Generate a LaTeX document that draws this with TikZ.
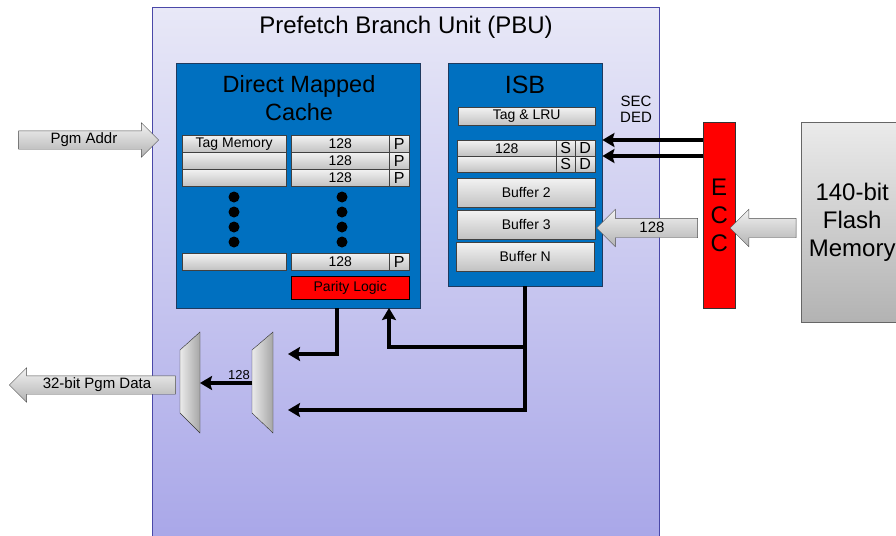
\documentclass[tikz,border=0pt]{standalone}
\usepackage{fontspec}
\setmainfont{Liberation Sans}
\usetikzlibrary{arrows.meta, shapes.arrows, positioning}

\definecolor{pbutop}{HTML}{E8E8F7}
\definecolor{pbubot}{HTML}{A8A6E8}
\definecolor{pbuline}{HTML}{4A48A8}
\definecolor{cacheblue}{HTML}{0070C0}
\definecolor{cacheline}{HTML}{1F3A5F}

\newcommand{\fs}[2]{\fontsize{#1}{#2}\selectfont}

\tikzset{
  box/.style={draw=#1, anchor=north west, inner sep=0pt},
  pbu/.style={box=pbuline, top color=pbutop, bottom color=pbubot},
  cachebox/.style={box=cacheline, fill=cacheblue},
  cell/.style={box=black!75, top color=black!5, bottom color=black!24, font=\fs{14}{14}},
  bus/.style={line width=3.8pt, -{Stealth[length=12pt,width=14pt,inset=2pt]}},
  fat/.style={single arrow, draw=black!70, top color=black!5, bottom color=black!30,
    single arrow head extend=8pt, single arrow tip angle=90, inner xsep=0pt,
    inner ysep=2pt, text height=10pt, text depth=4pt, font=\fs{15}{15}},
  muxbody/.style={draw=black!80, left color=black!8, right color=black!35},
}

\begin{document}
\begin{tikzpicture}[x=1pt, y=-1pt]
\useasboundingbox (0,0) rectangle (896,535);

% prefetch branch unit
\node[pbu, minimum width=507pt, minimum height=540pt] (pbu) at (152,7) {};
\node[font=\fs{24}{24}] (pbutitle) at (406,27) {Prefetch Branch Unit (PBU)};

% direct mapped cache
\node[cachebox, minimum width=244pt, minimum height=245pt] (cache) at (176,63) {};
\node[align=center, font=\fs{23.5}{28}] (cachetitle) at (299,98) {Direct Mapped\\Cache};
\foreach \r/\y/\t in {1/135/Tag Memory, 2/152/, 3/169/, 4/253/} {
  \node[cell, minimum width=104pt, minimum height=17pt] (tag\r) at (182,\y) {\t};
  \node[cell, minimum width=98pt, minimum height=17pt] (data\r) at (291,\y) {128};
  \node[cell, minimum width=20pt, minimum height=17pt, font=\fs{16}{16}] (par\r) at (389,\y) {P};
}
\foreach \y in {197,212,227,242} {
  \fill (234,\y) circle[radius=5.5pt];
  \fill (342,\y) circle[radius=5.5pt];
}
\node[box=black, fill=red, minimum width=118pt, minimum height=23pt, font=\fs{14}{14}] (parity) at (291,276) {Parity Logic};

% instruction stream buffer
\node[cachebox, minimum width=154pt, minimum height=223pt] (isb) at (448,63) {};
\node[font=\fs{25}{25}] (isbtitle) at (525,85) {ISB};
\node[cell, minimum width=137pt, minimum height=18pt] (taglru) at (458,107) {Tag \& LRU};
\foreach \r/\y/\t in {1/140/128, 2/156/} {
  \node[cell, minimum width=99pt, minimum height=16pt] (line\r) at (457,\y) {\t};
  \node[cell, minimum width=19pt, minimum height=16pt, font=\fs{16}{16}] (s\r) at (556,\y) {S};
  \node[cell, minimum width=20pt, minimum height=16pt, font=\fs{16}{16}] (d\r) at (575,\y) {D};
}
\foreach \n/\x/\y/\t in {b2/457/178/Buffer 2, b3/457/210/Buffer 3, bn/456/242/Buffer N}
  \node[cell, minimum width=138pt, minimum height=29pt] (\n) at (\x,\y) {\t};

% ecc and flash
\node[align=center, font=\fs{15}{16}] (secded) at (636,109) {SEC\\DED};
\node[box=black!80, fill=red, minimum width=32pt, minimum height=186pt, align=center, font=\fs{24}{28}] (ecc) at (703,122) {E\\C\\C};
\node[box=black!60, top color=black!8, bottom color=black!30, minimum width=102pt, minimum height=200pt, align=center, font=\fs{24}{28}] (flash) at (801,122) {140-bit\\Flash\\Memory};

% block arrows
\node[fat, minimum height=140pt] (pgmaddr) at (84,140) {Pgm Addr};
\node[fat, shape border rotate=180, minimum height=166pt] (pgmdata) at (97,385) {32-bit Pgm Data};
\node[fat, shape border rotate=180, minimum height=101pt, text height=12pt, text depth=3pt, single arrow head extend=9pt] (eccisb) at (652,228) {128};
\node[fat, shape border rotate=180, minimum height=66pt, text height=12pt, text depth=3pt, single arrow head extend=9pt] (flashecc) at (768,228) {};

% muxes
\draw[muxbody] (180,350) -- (200,332) -- (200,433) -- (180,413) -- cycle;
\draw[muxbody] (252,350) -- (273,332) -- (273,433) -- (252,413) -- cycle;
\coordinate (mux1in) at (200,383);
\coordinate (mux2out) at (252,383);
\coordinate (mux2a) at (288,354);
\coordinate (mux2b) at (288,410);
\coordinate (cacheout) at (337,308);
\coordinate (cachein) at (389,308);
\coordinate (branch) at (525,347);

% buses
\draw[bus] (ecc.west |- line1.north) -- (line1.north -| isb.east);
\draw[bus] (ecc.west |- line2.north) -- (line2.north -| isb.east);
\draw[bus] (mux2out) -- node[pos=0.25, above=1pt, inner sep=0pt, font=\fs{13}{13}] (w128) {128} (mux1in);
\draw[bus] (cacheout) |- (mux2a);
\draw[bus] (isb.south) |- (mux2b);
\draw[bus] (branch) -| (cachein);
\end{tikzpicture}
\end{document}
